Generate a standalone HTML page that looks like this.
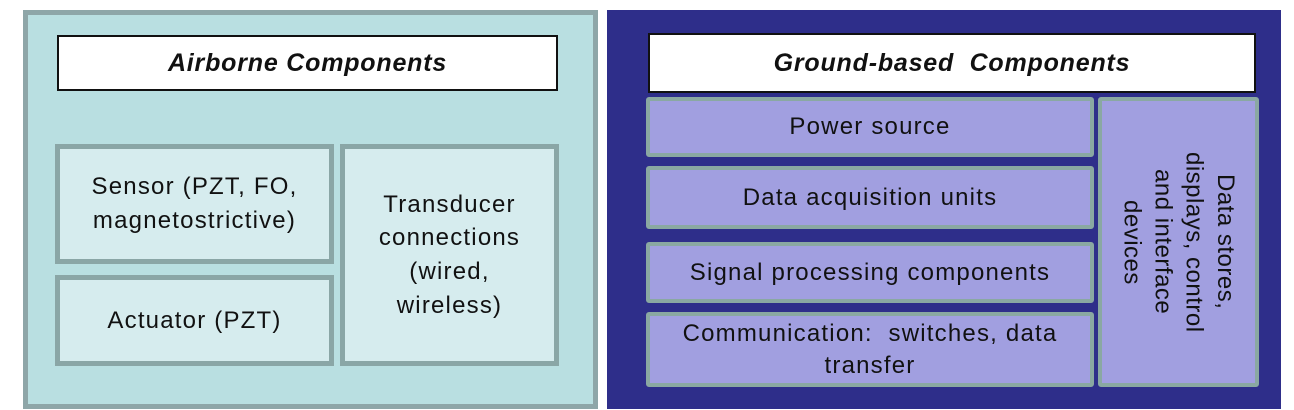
<!DOCTYPE html>
<html><head><style>
body{margin:0;width:1294px;height:410px;background:#fff;position:relative;overflow:hidden;font-family:"Liberation Sans",sans-serif;color:#111}
div{box-sizing:border-box;position:absolute}
.c{display:flex;align-items:center;justify-content:center;text-align:center;font-size:24px;line-height:1.4;letter-spacing:1.2px}
.t{background:#fff;border:2px solid #111;font-style:italic;font-weight:bold;font-size:25px;letter-spacing:0.8px}
.a{background:#d6ecee;border:5px solid #8aa6a6}
.g{background:#a19fe0;border:4px solid #8aa8a2;border-radius:3px}
</style></head><body>
<div style="left:23px;top:10px;width:575px;height:399px;background:#b9dfe1;border:5px solid #8ea6a8"></div>
<div class="c t" style="left:57px;top:35px;width:501px;height:56px">Airborne Components</div>
<div class="c a" style="left:55px;top:144px;width:279px;height:120px">Sensor (PZT, FO,<br>magnetostrictive)</div>
<div class="c a" style="left:55px;top:275px;width:279px;height:91px">Actuator (PZT)</div>
<div class="c a" style="left:340px;top:144px;width:219px;height:222px">Transducer<br>connections<br>(wired,<br>wireless)</div>

<div style="left:607px;top:10px;width:674px;height:399px;background:#2e2e8a"></div>
<div class="c t" style="left:648px;top:33px;width:608px;height:60px">Ground-based&nbsp; Components</div>
<div class="c g" style="left:646px;top:97px;width:448px;height:60px">Power source</div>
<div class="c g" style="left:646px;top:166px;width:448px;height:63px">Data acquisition units</div>
<div class="c g" style="left:646px;top:242px;width:448px;height:61px">Signal processing components</div>
<div class="c g" style="left:646px;top:312px;width:448px;height:75px;line-height:1.3">Communication:&nbsp; switches, data<br>transfer</div>
<div class="c g" style="left:1098px;top:97px;width:161px;height:290px"><span style="writing-mode:vertical-rl;line-height:1.3;letter-spacing:0.5px">Data stores,<br>displays, control<br>and interface<br>devices</span></div>
</body></html>
